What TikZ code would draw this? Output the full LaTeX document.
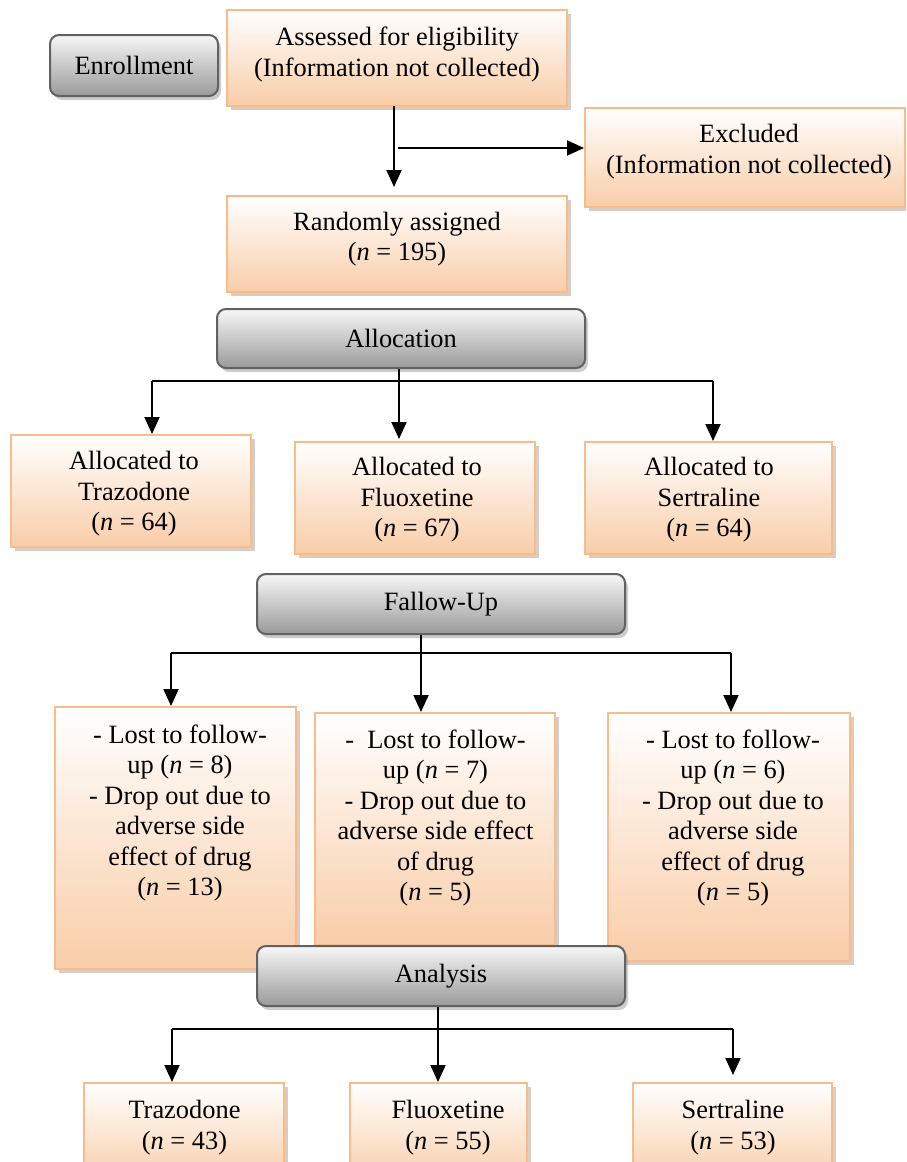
\documentclass[tikz,border=0pt]{standalone}
\usepackage{fontspec}
\setmainfont{Liberation Serif}
\usetikzlibrary{arrows.meta,shadows}
\definecolor{obord}{HTML}{F7BC8C}
\definecolor{obot}{HTML}{F9CDA8}
\definecolor{gtop}{HTML}{F7F7F7}
\definecolor{gbot}{HTML}{9A9A9A}
\definecolor{gbord}{HTML}{616161}
\definecolor{oshad}{HTML}{B59A86}
\tikzset{
 obox/.style={draw=obord, line width=2pt, top color=white, bottom color=obot,
   drop shadow={shadow xshift=4pt, shadow yshift=-4pt, fill=oshad, opacity=0.5}, inner sep=0pt},
 gbox/.style={draw=gbord, line width=2pt, rounded corners=9pt, top color=gtop, bottom color=gbot,
   drop shadow={shadow xshift=3pt, shadow yshift=-4pt, fill=gray, opacity=0.4}, inner sep=0pt},
 txt/.style={align=center, font=\fontsize{26.4}{30.5}\selectfont, inner sep=0pt},
 arr/.style={line width=2pt, -{Triangle[length=17pt,width=15pt]}},
 ln/.style={line width=2pt},
}
\newcommand{\nn}{\textit{n}}
\begin{document}
\begin{tikzpicture}[x=1pt,y=-1pt]
\useasboundingbox (0,0) rectangle (906,1162);
\clip (0,0) rectangle (906,1162);
% Enrollment row
\node[gbox, txt, minimum width=168pt, minimum height=61pt] (enroll) at (134,65.5) {Enrollment};
\node[obox, minimum width=340pt, minimum height=96pt] (assess) at (397,58) {};
\node[txt] (tassess) at (397,54.5) {Assessed for eligibility\\(Information not collected)};
\node[obox, minimum width=320pt, minimum height=99pt] (excl) at (745,157.5) {};
\node[txt] (texcl) at (749,151.5) {Excluded\\(Information not collected)};
\node[obox, minimum width=340pt, minimum height=96pt] (rand) at (397,244) {};
\node[txt] (trand) at (397,239) {Randomly assigned\\(\nn{} = 195)};
% Allocation
\node[gbox, txt, minimum width=368pt, minimum height=59pt] (alloc) at (401,338.5) {Allocation};
\node[obox, minimum width=240pt, minimum height=112pt] (a1) at (131,491) {};
\node[txt] (ta1) at (134,494) {Allocated to\\Trazodone\\(\nn{} = 64)};
\node[obox, minimum width=240pt, minimum height=112pt] (a2) at (415,498) {};
\node[txt] (ta2) at (417,500) {Allocated to\\Fluoxetine\\(\nn{} = 67)};
\node[obox, minimum width=247pt, minimum height=112pt] (a3) at (708.5,498) {};
\node[txt] (ta3) at (709,500) {Allocated to\\Sertraline\\(\nn{} = 64)};
% Follow-up
\node[gbox, txt, minimum width=368pt, minimum height=60pt] (fu) at (441,604) {Fallow-Up};
\node[obox, minimum width=241pt, minimum height=262pt] (l1) at (175.5,838) {};
\node[txt] (tl1) at (180,813) {- Lost to follow-\\up (\nn{} = 8)\\- Drop out due to\\adverse side\\effect of drug\\(\nn{} = 13)};
\node[obox, minimum width=240pt, minimum height=232pt] (l2) at (435,829) {};
\node[txt] (tl2) at (435.5,818) {-\ \ Lost to follow-\\up (\nn{} = 7)\\- Drop out due to\\adverse side effect\\of drug\\(\nn{} = 5)};
\node[obox, minimum width=242pt, minimum height=248pt] (l3) at (729,837) {};
\node[txt] (tl3) at (733,818) {- Lost to follow-\\up (\nn{} = 6)\\- Drop out due to\\adverse side\\effect of drug\\(\nn{} = 5)};
% Analysis
\node[gbox, txt, minimum width=368pt, minimum height=60pt] (an) at (441,976) {Analysis};
\node[obox, minimum width=200pt, minimum height=100pt] (f1) at (184,1133) {};
\node[txt] (tf1) at (184.5,1127.5) {Trazodone\\(\nn{} = 43)};
\node[obox, minimum width=177pt, minimum height=100pt] (f2) at (438.5,1133) {};
\node[txt] (tf2) at (448,1127.5) {Fluoxetine\\(\nn{} = 55)};
\node[obox, minimum width=199pt, minimum height=100pt] (f3) at (732.5,1133) {};
\node[txt] (tf3) at (733,1127.5) {Sertraline\\(\nn{} = 53)};
% connectors: top
\coordinate (s0) at (394,106);
\coordinate (j0) at (398,148);
\draw[arr, shorten >=8pt] (s0) -- (s0 |- rand.north);
\draw[arr] (j0) -- (j0 -| excl.west);
% allocation bus
\coordinate (b1l) at (152,381);
\coordinate (b1m) at (399,381);
\coordinate (b1r) at (713,381);
\draw[ln] (b1l) -- (b1r);
\draw[ln] (b1m |- alloc.south) -- (b1m);
\draw[arr] (b1l) -- (b1l |- a1.north);
\draw[arr, shorten >=2pt] (b1m) -- (b1m |- a2.north);
\draw[arr] (b1r) -- (b1r |- a3.north);
% follow-up bus
\coordinate (b2l) at (171,653);
\coordinate (b2m) at (421,653);
\coordinate (b2r) at (731,653);
\draw[ln] (b2l) -- (b2r);
\draw[ln] (b2m |- fu.south) -- (b2m);
\draw[arr] (b2l) -- (b2l |- l1.north);
\draw[arr] (b2m) -- (b2m |- l2.north);
\draw[arr] (b2r) -- (b2r |- l3.north);
% analysis bus
\coordinate (b3l) at (172,1029);
\coordinate (b3m) at (438,1029);
\coordinate (b3r) at (733,1029);
\draw[ln] (b3l) -- (b3r);
\draw[ln] (b3m |- an.south) -- (b3m);
\draw[arr] (b3l) -- (b3l |- f1.north);
\draw[arr] (b3m) -- (b3m |- f2.north);
\draw[arr, shorten >=7pt] (b3r) -- (b3r |- f3.north);
\end{tikzpicture}
\end{document}
